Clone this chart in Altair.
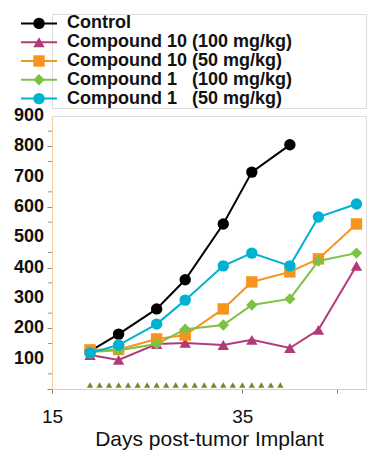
import altair as alt
import pandas as pd

NB = "\u00a0"
series = ["Control", "Compound 10 (100 mg/kg)", "Compound 10 (50 mg/kg)",
          "Compound 1" + NB * 3 + "(100 mg/kg)", "Compound 1" + NB * 3 + "(50 mg/kg)"]
colors = ["#000000", "#b23a78", "#f7941d", "#7dc242", "#00b2d2"]
shapes = ["circle", "triangle-up", "square", "diamond", "circle"]

days = [19, 22, 26, 29, 33, 36, 40, 43, 47]
control = [125, 181, 264, 360, 544, 715, 805]
c10_100 = [112, 96, 148, 152, 145, 162, 135, 195, 406]
c10_50 = [129, 130, 165, 178, 264, 353, 386, 429, 544]
c1_100 = [122, 128, 148, 197, 211, 277, 297, 422, 448]
c1_50 = [119, 145, 214, 293, 406, 448, 406, 567, 610]
dose_days = list(range(19, 40))

y_ticks = list(range(0, 901, 100))
y_labels = list(range(100, 901, 100))
y_minor = list(range(50, 900, 100))
x_ticks = [15, 35, 45]

rows = []
for name, vals in zip(series, [control, c10_100, c10_50, c1_100, c1_50]):
    for d, v in zip(days, vals):
        rows.append({"series": name, "day": d, "volume": v})
df = pd.DataFrame(rows)
dose = pd.DataFrame({"day": dose_days, "volume": [0] * len(dose_days)})
minor = pd.DataFrame({"volume": y_minor})
ylab = pd.DataFrame({"volume": y_labels, "label": [str(v) for v in y_labels]})
leg = pd.DataFrame({"series": series})

font = "Liberation Sans"
color_scale = alt.Scale(domain=series, range=colors)
shape_scale = alt.Scale(domain=series, range=shapes)

x_enc = alt.X("day:Q", scale=alt.Scale(domain=[15, 48], nice=False, zero=False),
              axis=alt.Axis(values=x_ticks, labelExpr="datum.value == 45 ? '' : datum.label",
                            title="Days post-tumor Implant", grid=False, labelFlush=False,
                            labelOverlap=False,
                            domainColor="#f8c88c", domainWidth=1.2, tickColor="#777777",
                            tickSize=4, labelFontSize=19, labelFont=font, labelPadding=14,
                            labelColor="#111111", titleFontSize=21, titleFont=font,
                            titleFontWeight="normal", titlePadding=2, titleColor="#111111"))
y_scale = alt.Scale(domain=[0, 900], nice=False)
y_enc = alt.Y("volume:Q", scale=y_scale,
              axis=alt.Axis(values=y_ticks, labels=False, title=None, grid=False,
                            domainColor="#f9cf9f", domainWidth=1.2,
                            tickColor="#888888", tickSize=5))

base = alt.Chart(df).encode(x=x_enc, y=y_enc)
minor_ticks = alt.Chart(minor).mark_rule(color="#999999", strokeWidth=1).encode(
    x=alt.value(-4), x2=alt.value(0), y=alt.Y("volume:Q"))
y_text = alt.Chart(ylab).mark_text(align="right", baseline="middle", font=font,
                                   fontSize=18, fontWeight="bold", color="#111111").encode(
    x=alt.value(-8), y=alt.Y("volume:Q"), text="label:N")
lines = base.mark_line(strokeWidth=2).encode(
    color=alt.Color("series:N", scale=color_scale, legend=None),
    detail="series:N")
points = base.mark_point(filled=True, size=130, opacity=1).encode(
    color=alt.Color("series:N", scale=color_scale, legend=None),
    shape=alt.Shape("series:N", scale=shape_scale, legend=None))
dosing = alt.Chart(dose).mark_point(shape="triangle-up", filled=True, size=40,
                                    color="#6e8a2c", opacity=1).encode(
    x=alt.X("day:Q"), y=alt.Y("volume:Q"), yOffset=alt.value(-4))

main = alt.layer(lines, points, dosing, minor_ticks, y_text).properties(width=314, height=273)

ly = alt.Y("series:N", sort=series, scale=alt.Scale(type="point", padding=0.5), axis=None)
lrule = alt.Chart(leg).mark_rule(strokeWidth=2).encode(
    x=alt.value(-31), x2=alt.value(5), y=ly,
    color=alt.Color("series:N", scale=color_scale, legend=None))
lpt = alt.Chart(leg).mark_point(filled=True, size=130, opacity=1).encode(
    x=alt.value(-13), y=ly,
    color=alt.Color("series:N", scale=color_scale, legend=None),
    shape=alt.Shape("series:N", scale=shape_scale, legend=None))
ltext = alt.Chart(leg).mark_text(align="left", baseline="middle", font=font,
                                 fontSize=18, fontWeight="bold", color="#111111").encode(
    x=alt.value(15), y=ly, text="series:N")
legend = alt.layer(lrule, lpt, ltext).properties(width=314, height=94)

chart = alt.vconcat(legend, main, spacing=8, bounds="flush").properties(
    padding={"left": 5, "top": 5, "right": 0, "bottom": 0}
).configure_view(stroke=None).configure(background="white")

chart.save("out.html", embed_options={"renderer": "svg", "actions": False})
